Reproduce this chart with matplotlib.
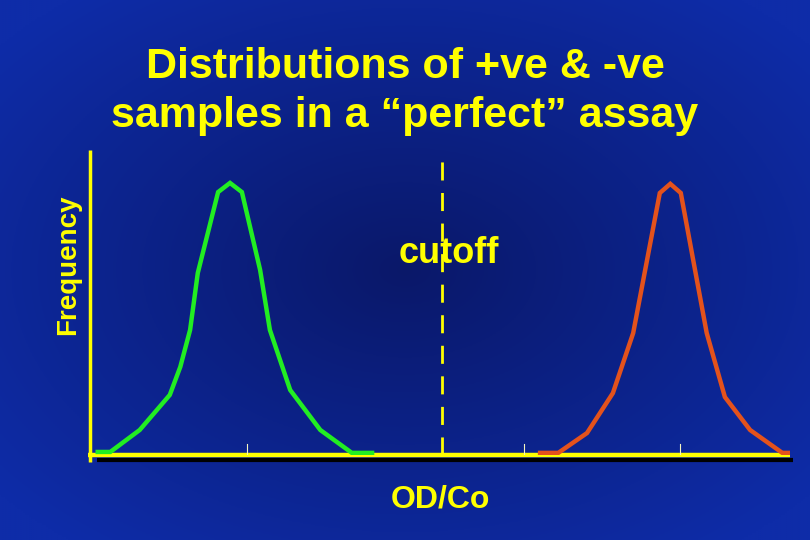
import numpy as np
import matplotlib.pyplot as plt

# negative samples (green) and positive samples (red), x in OD/Co units, y frequency
neg_x = [0.11, 0.29, 0.71, 1.14, 1.29, 1.43, 1.54, 1.83, 2.0, 2.17, 2.43, 2.57, 2.86, 3.29, 3.74, 4.03]
neg_y = [1.0, 1.0, 8.2, 19.7, 28.9, 41.0, 59.7, 86.2, 89.2, 86.2, 60.7, 41.0, 21.3, 8.2, 0.7, 0.7]
pos_x = [6.43, 6.69, 7.10, 7.47, 7.76, 8.14, 8.29, 8.44, 8.81, 9.07, 9.43, 9.89, 10.0]
pos_y = [0.7, 0.7, 7.2, 20.3, 40.0, 85.9, 88.9, 85.9, 40.0, 19.0, 8.2, 0.7, 0.7]
cutoff = 5.03
ticks = [2.24, 6.2, 8.43]

title = "Distributions of +ve & -ve\nsamples in a \u201cperfect\u201d assay"
yellow = '#ffff00'

plt.rcParams['font.family'] = ['Liberation Sans', 'DejaVu Sans']
fig = plt.figure(figsize=(8.1, 5.4), dpi=100)

# radial blue background, darker in the middle
bg = fig.add_axes([0, 0, 1, 1], zorder=0)
gx, gy = np.meshgrid(np.linspace(-1, 1, 400), np.linspace(-1, 1, 270))
r = np.clip(np.sqrt(gx**2 + gy**2) / 1.3, 0, 1)
dark = np.array([10, 24, 105]) / 255
light = np.array([14, 44, 168]) / 255
img = dark[None, None, :] * (1 - r[..., None]) + light[None, None, :] * r[..., None]
bg.imshow(img, aspect='auto', extent=[0, 1, 0, 1])
bg.axis('off')

ax = fig.add_axes([90/810, 85/540, 700/810, 305/540], zorder=1)
ax.patch.set_alpha(0)
ax.set_xlim(0, 10)
ax.set_ylim(0, 100)
for s in ax.spines.values():
    s.set_visible(False)
ax.set_xticks([])
ax.set_yticks([])

# axes drawn by hand, with a black shadow under the x axis
ax.plot([0.1, 10.05], [-1.7, -1.7], color='black', lw=3, clip_on=False, solid_capstyle='butt')
ax.plot([-0.03, 10.0], [0, 0], color=yellow, lw=3.2, clip_on=False, solid_capstyle='butt')
ax.plot([0, 0], [-2.3, 100], color=yellow, lw=2.5, clip_on=False, solid_capstyle='butt')
for t in ticks:
    ax.plot([t, t], [0, 3.5], color='#f4f4c0', lw=0.8)

ax.plot([cutoff, cutoff], [0, 96.7], color=yellow, lw=2, dashes=(6.5, 4.5))

ax.plot(neg_x, neg_y, color='#22ee22', lw=3.2, solid_joinstyle='miter')
ax.plot(pos_x, pos_y, color='#e4521c', lw=3.2, solid_joinstyle='miter')

ax.text(cutoff + 0.1, 66, 'cutoff', color=yellow, fontsize=26, fontweight='bold',
        ha='center', va='center')

fig.text(0.5, 0.83, title, color=yellow, fontsize=31, fontweight='bold',
         ha='center', va='center', linespacing=1.28)
fig.text(440/810, 1 - 500/540, 'OD/Co', color=yellow, fontsize=23, fontweight='bold',
         ha='center', va='center')
fig.text(68/810, 1 - 265/540, 'Frequency', color=yellow, fontsize=20, fontweight='bold',
         ha='center', va='center', rotation=90)

fig.savefig('out.png', dpi=100)
